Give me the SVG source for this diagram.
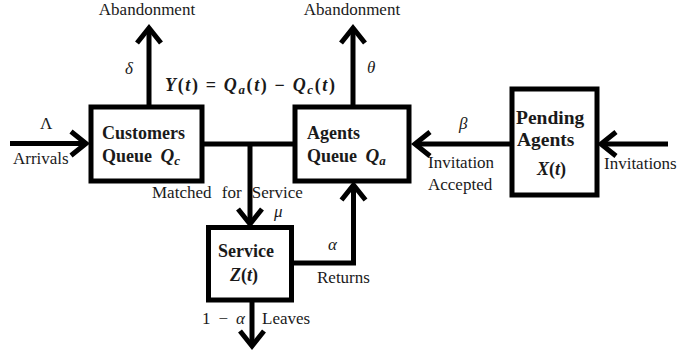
<svg xmlns="http://www.w3.org/2000/svg" width="681" height="354" viewBox="0 0 681 354" font-family="'Liberation Serif', 'Times New Roman', 'DejaVu Serif', serif">
<defs>
<marker id="ah" markerUnits="userSpaceOnUse" markerWidth="40" markerHeight="40" refX="0" refY="0" viewBox="-25 -20 30 40" orient="auto" overflow="visible">
<path d="M-15,-12 L0,0 L-15,12" fill="none" stroke="#000" stroke-width="5" stroke-linecap="butt" stroke-linejoin="miter"/>
</marker>
</defs>
<style>
.box{fill:#fff;stroke:#000;stroke-width:5}
.ln{fill:none;stroke:#000;stroke-width:5}
.arr{marker-end:url(#ah)}
text{fill:#1a1a1a}
.t{font-size:17px}
.b{font-size:18px;font-weight:bold}
.bp{font-size:19.5px;font-weight:bold}
.m{font-style:italic}
.mb{font-style:italic;font-weight:bold}
</style>
<rect width="681" height="354" fill="#fff"/>
<g id="connectors">
<path class="ln arr" d="M10,143.5 H86"/>
<path class="ln arr" d="M149,107 V28"/>
<path class="ln arr" d="M353,107 V28"/>
<path class="ln" d="M202,144 H295"/>
<path class="ln arr" d="M250,144 V224"/>
<path class="ln arr" d="M512,144 H415"/>
<path class="ln arr" d="M668,144 H601"/>
<path class="ln arr" d="M291.5,263 H353.5 V185"/>
<path class="ln arr" d="M252,300 V346"/>
</g>
<g id="customers-queue">
<rect class="box" x="91" y="107" width="111" height="74"/>
<text class="b" x="102" y="139">Customers</text>
<text class="b" x="102" y="162">Queue <tspan class="mb" dx="4" font-size="19">Q</tspan><tspan class="mb" font-size="13" dy="3">c</tspan></text>
</g>
<g id="agents-queue">
<rect class="box" x="295" y="107" width="114" height="74"/>
<text class="b" x="307" y="139">Agents</text>
<text class="b" x="307" y="162">Queue <tspan class="mb" dx="4" font-size="19">Q</tspan><tspan class="m" font-size="13" dy="3">a</tspan></text>
</g>
<g id="pending-agents">
<rect class="box" x="512" y="89" width="85" height="106"/>
<text class="bp" x="516" y="124">Pending</text>
<text class="bp" x="517" y="146">Agents</text>
<text class="b" x="537" y="175"><tspan class="mb">X</tspan>(<tspan class="mb">t</tspan>)</text>
</g>
<g id="service">
<rect class="box" x="208.5" y="227.5" width="83" height="72.5"/>
<text class="b" x="218" y="257">Service</text>
<text class="b" x="230" y="281"><tspan class="mb">Z</tspan>(<tspan class="mb">t</tspan>)</text>
</g>
<g id="labels">
<text class="t" x="147" y="15" text-anchor="middle">Abandonment</text>
<text class="t" x="352" y="15" text-anchor="middle">Abandonment</text>
<text class="t m" x="125" y="74">δ</text>
<text class="t m" x="367" y="73">θ</text>
<text class="b" x="165" y="91" font-size="19" textLength="170" lengthAdjust="spacing"><tspan class="mb">Y</tspan>(<tspan class="mb">t</tspan>) = <tspan class="mb">Q</tspan><tspan class="mb" font-size="13" dy="3">a</tspan><tspan dy="-3">(</tspan><tspan class="mb">t</tspan>) − <tspan class="mb">Q</tspan><tspan class="mb" font-size="13" dy="3">c</tspan><tspan dy="-3">(</tspan><tspan class="mb">t</tspan>)</text>
<text class="t" x="40" y="129">Λ</text>
<text class="t" x="13" y="164">Arrivals</text>
<text class="t m" x="459" y="129">β</text>
<text class="t" x="428" y="168">Invitation</text>
<text class="t" x="428" y="190">Accepted</text>
<text class="t" x="604" y="169">Invitations</text>
<text class="t" x="152" y="198" word-spacing="6">Matched for Service</text>
<text class="t m" x="274" y="217">μ</text>
<text class="t m" x="328" y="250">α</text>
<text class="t" x="317" y="283">Returns</text>
<text class="t" x="202" y="324" textLength="43" lengthAdjust="spacing">1 − <tspan class="m">α</tspan></text>
<text class="t" x="262" y="324">Leaves</text>
</g>
</svg>
